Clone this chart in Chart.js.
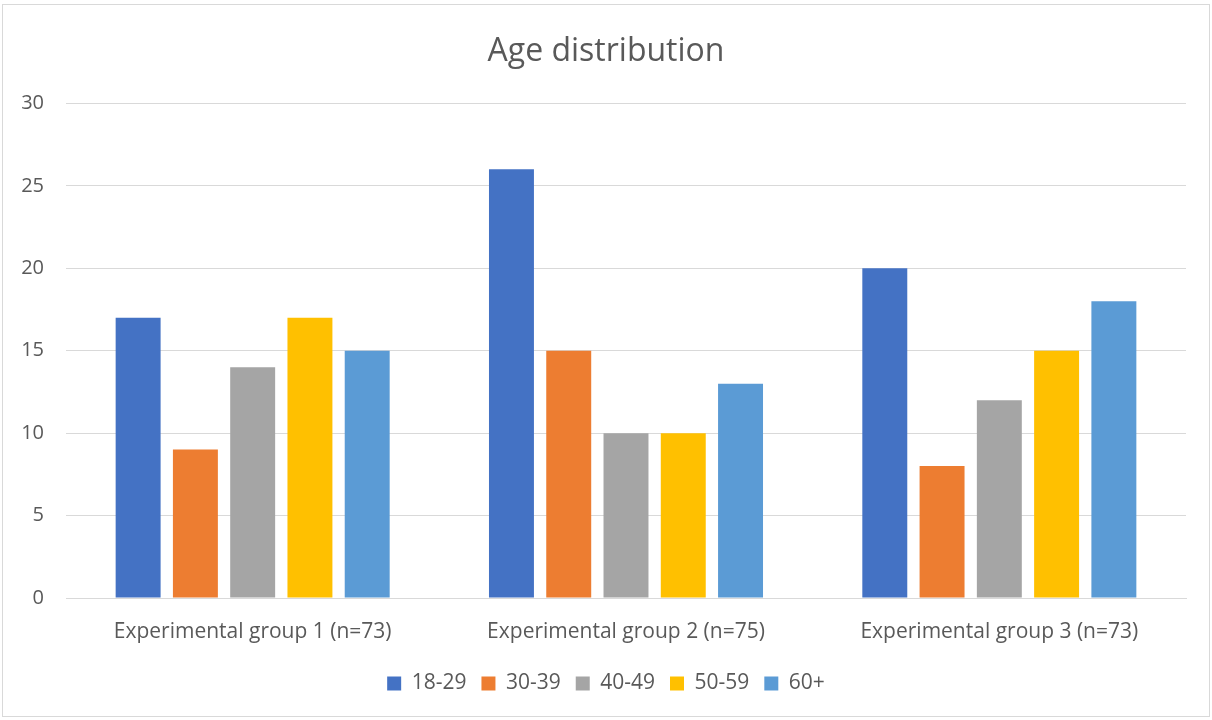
<!DOCTYPE html>
<html>
<head>
<meta charset="utf-8">
<script src="https://cdn.jsdelivr.net/npm/chart.js@4/dist/chart.umd.min.js"></script>
<style>
  html, body { margin: 0; padding: 0; background: #ffffff; }
  #wrap { position: relative; width: 1212px; height: 720px; }
</style>
</head>
<body>
<div id="wrap"><canvas id="c" width="1212" height="720"></canvas></div>
<script>
const groups = ['Experimental group 1 (n=73)', 'Experimental group 2 (n=75)', 'Experimental group 3 (n=73)'];
const ageBands = ['18-29', '30-39', '40-49', '50-59', '60+'];
const age18to29 = [17, 26, 20];
const age30to39 = [9, 15, 8];
const age40to49 = [14, 10, 12];
const age50to59 = [17, 10, 15];
const age60plus = [15, 13, 18];
const yTicks = [0, 5, 10, 15, 20, 25, 30];

const seriesValues = [age18to29, age30to39, age40to49, age50to59, age60plus];
const seriesColors = ['#4472C4', '#ED7D31', '#A5A5A5', '#FFC000', '#5B9BD5'];

const textColor = '#595959';
const gridColor = '#D9D9D9';
const fontFamily = '"Open Sans", Lato, sans-serif';

// thin frame around the whole chart
const framePlugin = {
  id: 'frame',
  afterDraw(chart) {
    const ctx = chart.ctx;
    ctx.save();
    ctx.strokeStyle = '#D9D9D9';
    ctx.lineWidth = 1;
    ctx.strokeRect(2.5, 4.5, 1207, 712);
    ctx.restore();
  }
};

new Chart(document.getElementById('c'), {
  type: 'bar',
  data: {
    labels: groups,
    datasets: ageBands.map((band, i) => ({
      label: band,
      data: seriesValues[i],
      backgroundColor: seriesColors[i],
      borderWidth: 0,
      categoryPercentage: 0.767,
      barPercentage: 0.785
    }))
  },
  options: {
    responsive: false,
    animation: false,
    layout: { padding: { top: 0, left: 0, right: 0, bottom: 16 } },
    plugins: {
      title: {
        display: true,
        text: 'Age distribution',
        color: textColor,
        font: { family: fontFamily, size: 32, weight: 'normal' },
        padding: { top: 33, bottom: 32 }
      },
      legend: {
        position: 'bottom',
        labels: {
          color: textColor,
          font: { family: fontFamily, size: 21 },
          boxWidth: 14,
          boxHeight: 14,
          padding: 15
        }
      },
      tooltip: { enabled: false }
    },
    scales: {
      x: {
        grid: { display: false, drawTicks: false },
        border: { display: true, color: gridColor },
        ticks: { color: textColor, font: { family: fontFamily, size: 21 }, padding: 21, maxRotation: 0 },
        afterFit(s) { s.height = 60; }
      },
      y: {
        min: 0,
        max: 30,
        afterBuildTicks(s) { s.ticks = yTicks.map(v => ({ value: v })); },
        grid: { color: gridColor, drawTicks: false },
        border: { display: false },
        ticks: { color: textColor, font: { family: fontFamily, size: 20 }, padding: 22 },
        afterFit(s) { s.width = 66; }
      },
      // empty right-hand margin so the plot and the title share the same centre
      yRight: {
        type: 'linear',
        position: 'right',
        grid: { display: false, drawTicks: false },
        border: { display: false },
        ticks: { display: false },
        afterFit(s) { s.width = 26; }
      }
    }
  },
  plugins: [framePlugin]
});
</script>
</body>
</html>
